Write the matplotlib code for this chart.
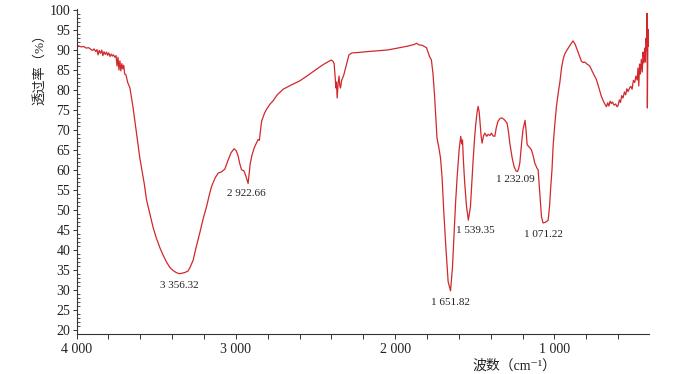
import matplotlib
matplotlib.use("Agg")
import matplotlib.pyplot as plt
from matplotlib.ticker import MultipleLocator, FuncFormatter

# 字体：数字用衬线体，中文回退到 Noto Sans CJK SC
plt.rcParams['font.family'] = ['Liberation Serif', 'Noto Sans CJK SC', 'DejaVu Serif']

# 红外光谱曲线（波数 cm-1, 透过率 %）
wavenumber = [4000, 3985, 3970, 3955, 3940, 3925, 3910, 3900, 3890, 3880, 3872, 3865, 3858, 3850,
              3842, 3835, 3828, 3820, 3812, 3805, 3798, 3790, 3782, 3775, 3768, 3760, 3752, 3746,
              3740, 3734, 3728, 3722, 3716, 3710, 3704, 3698, 3690, 3680, 3665, 3655, 3645, 3635,
              3623, 3612, 3603, 3590, 3575, 3561, 3540, 3519, 3500, 3477, 3455, 3435, 3415, 3394,
              3375, 3356, 3340, 3320, 3299, 3285, 3268, 3250, 3226, 3205, 3184, 3168, 3153, 3130,
              3111, 3090, 3069, 3050, 3030, 3011, 2998, 2986, 2975, 2964, 2950, 2940, 2923, 2910,
              2900, 2885, 2870, 2860, 2852, 2845, 2838, 2820, 2807, 2785, 2766, 2740, 2703, 2650,
              2598, 2550, 2494, 2450, 2420, 2400, 2390, 2383, 2376, 2372, 2368, 2364, 2358, 2352,
              2347, 2343, 2335, 2322, 2305, 2290, 2270, 2230, 2180, 2120, 2054, 2010, 1971, 1920,
              1880, 1866, 1850, 1830, 1803, 1785, 1772, 1762, 1752, 1737, 1725, 1715, 1705, 1695,
              1682, 1667, 1652, 1640, 1630, 1620, 1610, 1598, 1588, 1582, 1577, 1570, 1563, 1552,
              1540, 1527, 1518, 1510, 1500, 1493, 1485, 1479, 1472, 1468, 1460, 1454, 1445, 1437,
              1425, 1416, 1405, 1395, 1385, 1374, 1365, 1354, 1340, 1329, 1315, 1297, 1288, 1280,
              1265, 1253, 1240, 1232, 1225, 1217, 1205, 1197, 1184, 1178, 1171, 1160, 1144, 1133,
              1123, 1110, 1102, 1090, 1081, 1071, 1055, 1039, 1030, 1024, 1015, 1008, 997, 987,
              975, 966, 955, 945, 935, 924, 905, 883, 870, 858, 845, 830, 820, 809,
              795, 778, 760, 736, 720, 705, 690, 680, 673, 665, 658, 650, 642, 635,
              625, 615, 606, 600, 592, 585, 577, 569, 560, 552, 545, 537, 527, 520,
              512, 504, 495, 488, 480, 475, 470, 465, 460, 454, 448, 443, 438, 433,
              428, 424, 421, 418, 416, 413, 410, 407, 405]
transmittance = [91.2, 91.0, 90.8, 90.9, 90.5, 90.6, 90.2, 89.9, 90.3, 89.6, 90.1, 88.8, 89.9, 89.2,
                 90.0, 88.6, 89.6, 88.9, 89.5, 88.7, 89.3, 88.4, 89.0, 88.5, 88.8, 88.2, 88.6, 86.0,
                 88.2, 85.0, 87.3, 84.8, 86.6, 85.3, 86.2, 84.0, 83.8, 82.0, 80.5, 78.0, 75.5, 72.5,
                 69.0, 65.5, 63.0, 60.0, 56.5, 52.5, 49.0, 45.5, 43.0, 40.5, 38.5, 36.9, 35.6, 34.8,
                 34.3, 34.0, 34.1, 34.3, 34.7, 35.8, 37.4, 40.5, 44.3, 47.8, 50.8, 53.5, 55.8, 58.0,
                 59.2, 59.5, 60.2, 62.3, 64.3, 65.3, 64.8, 63.5, 61.5, 60.0, 59.8, 58.8, 56.6, 61.5,
                 63.5, 65.5, 66.8, 67.6, 67.4, 70.0, 72.2, 74.2, 75.2, 76.5, 77.3, 78.8, 80.2, 81.3,
                 82.3, 83.6, 85.2, 86.4, 87.1, 87.5, 87.2, 86.6, 83.0, 80.5, 82.0, 78.0, 81.5, 83.5,
                 81.0, 80.5, 82.5, 83.8, 86.5, 88.8, 89.3, 89.4, 89.6, 89.8, 90.0, 90.3, 90.6, 91.0,
                 91.4, 91.7, 91.3, 91.2, 90.6, 88.5, 87.5, 84.0, 78.4, 68.0, 65.5, 63.0, 58.0, 50.0,
                 41.0, 32.0, 29.7, 35.5, 44.0, 52.0, 58.5, 65.0, 68.4, 66.5, 67.5, 61.5, 56.7, 51.0,
                 47.4, 50.8, 57.0, 62.5, 68.5, 71.7, 74.5, 75.9, 74.5, 72.6, 68.5, 66.7, 68.5, 69.2,
                 68.4, 68.9, 68.6, 69.2, 68.5, 68.4, 70.5, 72.2, 72.9, 73.0, 72.6, 71.7, 69.5, 66.7,
                 63.0, 60.8, 59.7, 59.6, 60.2, 61.7, 67.0, 70.1, 72.4, 70.0, 66.3, 65.8, 65.0, 63.5,
                 61.7, 60.5, 60.0, 53.5, 48.3, 46.7, 46.9, 47.4, 51.0, 55.0, 60.0, 65.9, 71.5, 75.9,
                 79.5, 81.8, 85.5, 87.7, 89.0, 89.8, 91.0, 92.3, 91.5, 90.2, 88.8, 87.2, 86.9, 87.0,
                 86.5, 86.0, 84.5, 82.6, 80.5, 78.4, 77.0, 76.3, 75.8, 76.8, 76.0, 77.2, 76.6, 77.0,
                 76.2, 76.5, 75.8, 76.1, 77.5, 76.9, 78.6, 78.0, 79.5, 78.8, 80.3, 79.6, 80.6, 80.9,
                 80.2, 82.4, 81.9, 83.5, 82.5, 85.5, 81.0, 86.5, 84.0, 87.7, 84.5, 89.5, 86.8, 90.5,
                 87.0, 93.0, 90.0, 99.2, 75.5, 93.0, 91.0, 95.2, 92.0]

# 标注的吸收峰
peak_wn = [3356.32, 2922.66, 1651.82, 1539.35, 1232.09, 1071.22]
peak_t = [34.0, 56.6, 29.7, 47.4, 59.6, 46.7]
# 标签相对峰位的偏移（波数, 透过率）
label_dx = [0, 10, 0, -46, 11, -5]
label_dy = [-2.9, -2.5, -2.9, -2.5, -2.0, -2.8]


def fmt_num(v):
    # 千位用空格分隔，如 4 000、3 356.32
    s = "{:,.2f}".format(v) if v != int(v) else "{:,}".format(int(v))
    return s.replace(",", " ")


fig = plt.figure(figsize=(6.9, 3.74), dpi=100)
ax = fig.add_axes([0.111, 0.107, 0.830, 0.868])

ax.plot(wavenumber, transmittance, color='#d0282c', lw=0.9)

ax.set_xlim(4000, 404)
ax.set_ylim(18.9, 100.2)

ax.xaxis.set_major_locator(MultipleLocator(1000))
ax.xaxis.set_minor_locator(MultipleLocator(200))
ax.xaxis.set_major_formatter(FuncFormatter(lambda v, p: fmt_num(v)))
ax.yaxis.set_major_locator(MultipleLocator(5))
ax.yaxis.set_minor_locator(MultipleLocator(1))

ax.tick_params(axis='x', which='both', direction='out', length=3.5, width=0.7,
               labelsize=10, pad=3, colors='#333333', labelcolor='#222222')
ax.tick_params(axis='y', which='major', direction='out', length=3, width=0.7,
               labelsize=10, pad=1.5, colors='#333333', labelcolor='#222222')
ax.tick_params(axis='y', which='minor', direction='in', length=2, width=0.6, colors='#333333')

for side in ['top', 'right']:
    ax.spines[side].set_visible(False)
for side in ['left', 'bottom']:
    ax.spines[side].set_linewidth(0.8)
    ax.spines[side].set_color('#333333')

for w, t, dx, dy in zip(peak_wn, peak_t, label_dx, label_dy):
    ax.text(w + dx, t + dy, fmt_num(w), fontsize=8, ha='center', va='center', color='#222222')

fig.text(0.745, 0.021, '波数（cm⁻¹）', fontsize=10, ha='center', va='center', color='#222222')
fig.text(0.058, 0.824, '透过率（%）', fontsize=9.5, ha='center', va='center',
         rotation=90, color='#222222')

fig.savefig('out.png', dpi=100)
